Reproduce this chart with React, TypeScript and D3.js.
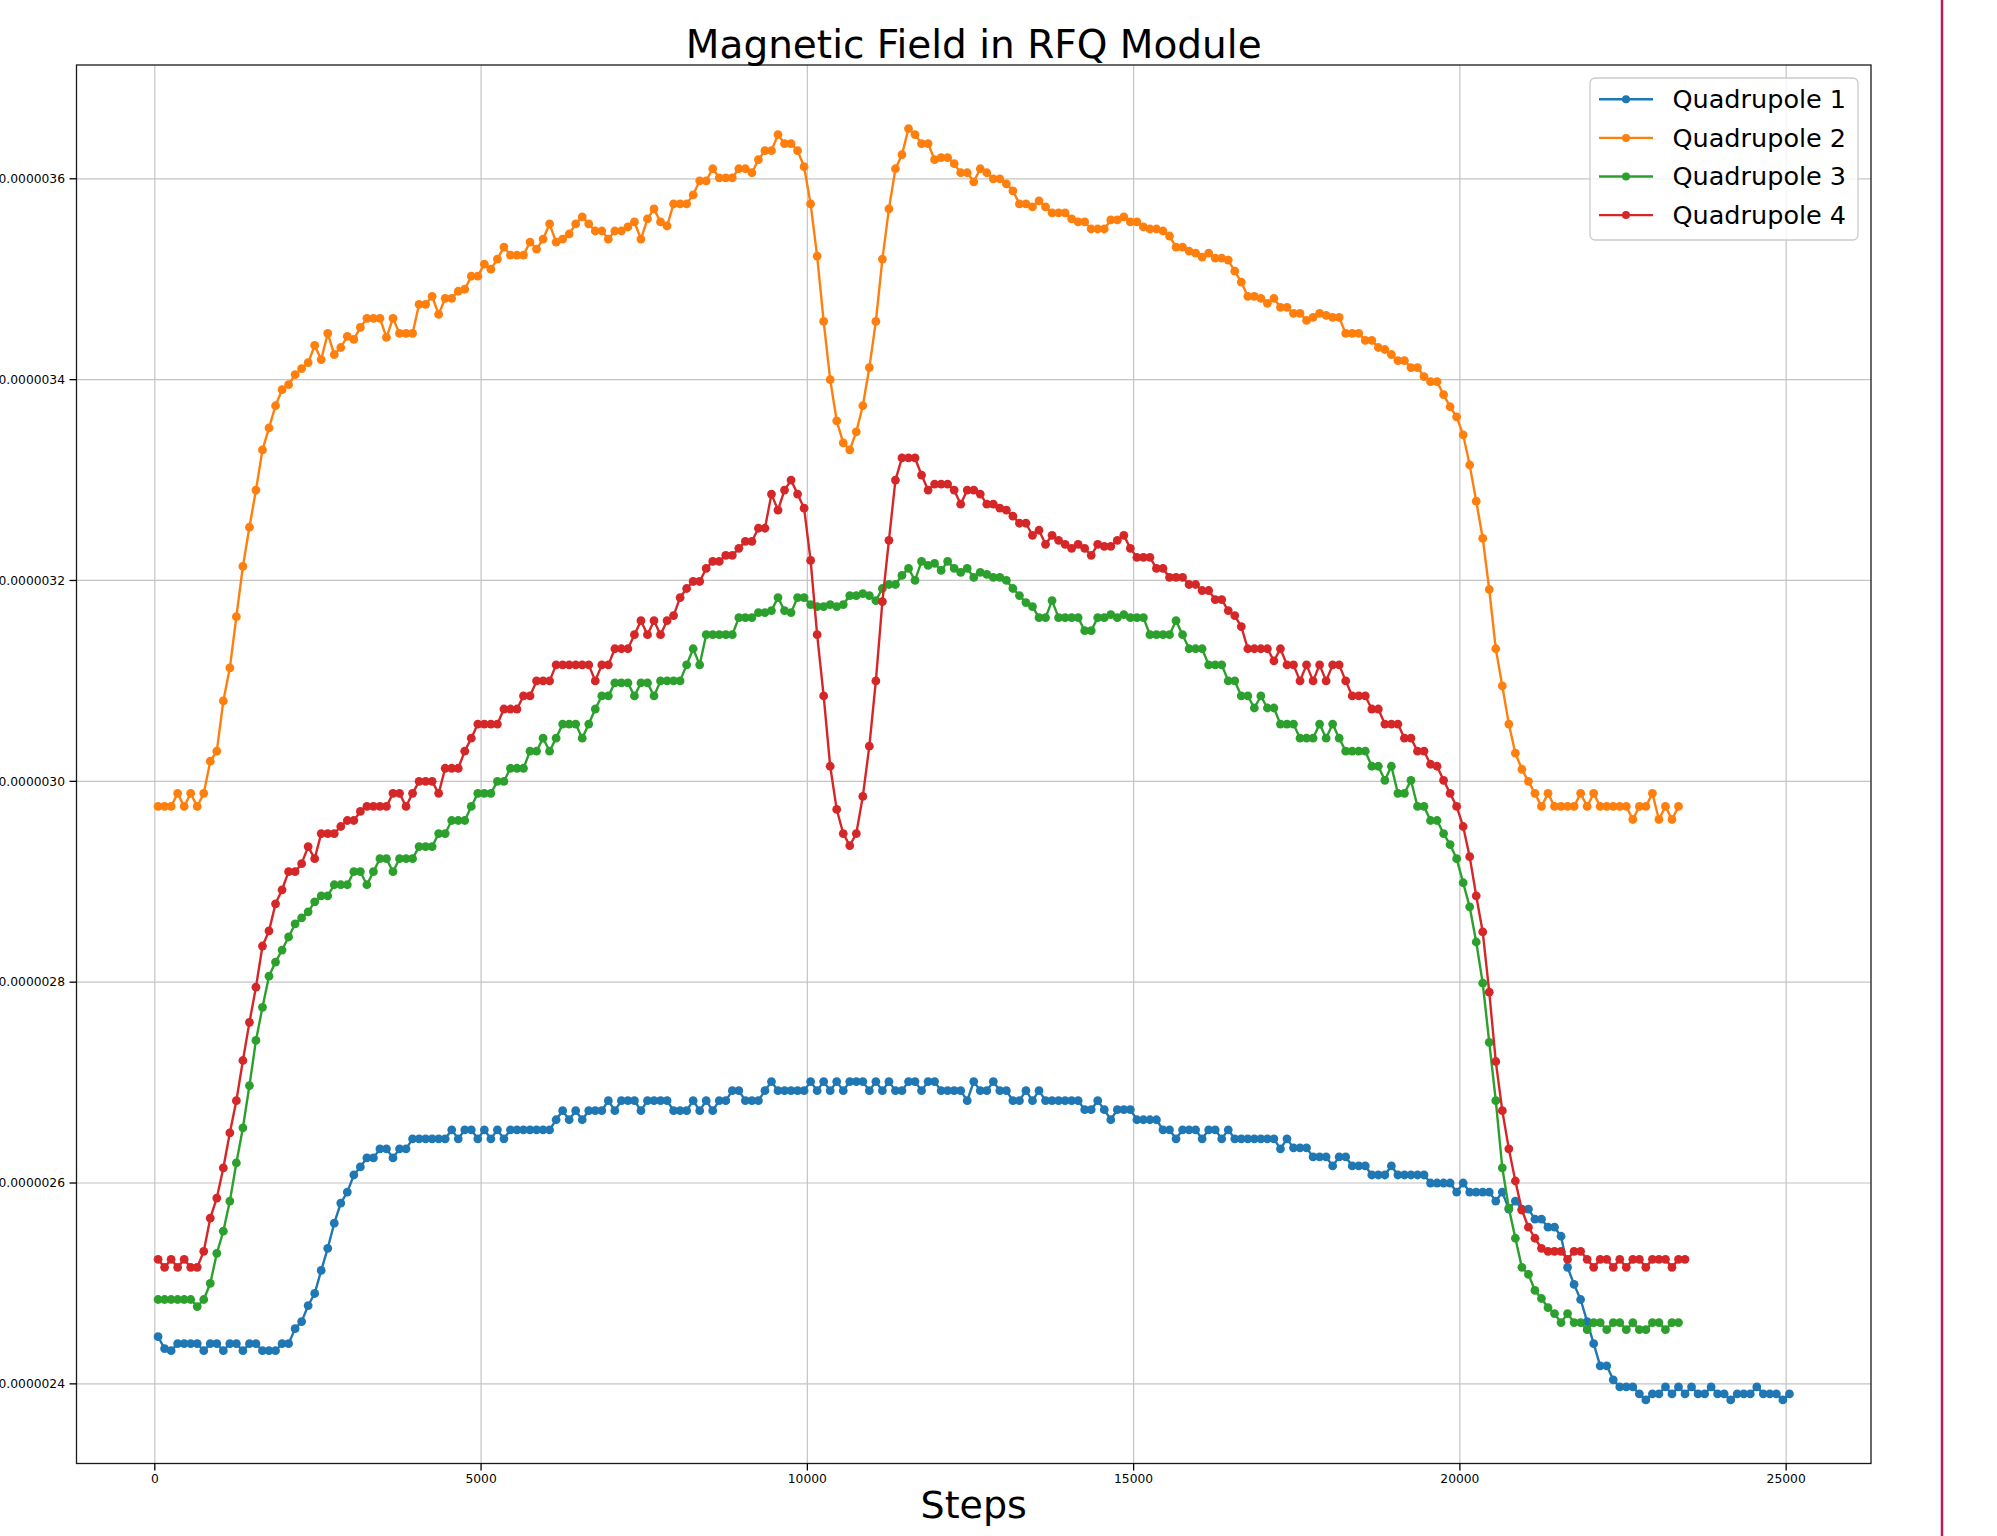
import * as d3 from 'd3';

// sampling interval of the recorded steps (first sample sits at step 50)
const STEP = 100;
const FIRST_STEP = 50;

// field values in units of 1e-9 (one value per 100 steps)
const quad1 = [
  2447, 2435, 2433, 2440, 2440, 2440, 2440, 2433, 2440, 2440,
  2433, 2440, 2440, 2433, 2440, 2440, 2433, 2433, 2433, 2440,
  2440, 2455, 2462, 2478, 2490, 2513, 2535, 2560, 2580, 2591,
  2608, 2616, 2625, 2625, 2634, 2634, 2625, 2634, 2634, 2644,
  2644, 2644, 2644, 2644, 2644, 2653, 2644, 2653, 2653, 2644,
  2653, 2644, 2653, 2644, 2653, 2653, 2653, 2653, 2653, 2653,
  2653, 2663, 2672, 2663, 2672, 2663, 2672, 2672, 2672, 2682,
  2672, 2682, 2682, 2682, 2672, 2682, 2682, 2682, 2682, 2672,
  2672, 2672, 2682, 2672, 2682, 2672, 2682, 2682, 2692, 2692,
  2682, 2682, 2682, 2692, 2701, 2692, 2692, 2692, 2692, 2692,
  2701, 2692, 2701, 2692, 2701, 2692, 2701, 2701, 2701, 2692,
  2701, 2692, 2701, 2692, 2692, 2701, 2701, 2692, 2701, 2701,
  2692, 2692, 2692, 2692, 2682, 2701, 2692, 2692, 2701, 2692,
  2692, 2682, 2682, 2692, 2682, 2692, 2682, 2682, 2682, 2682,
  2682, 2682, 2673, 2673, 2682, 2673, 2663, 2673, 2673, 2673,
  2663, 2663, 2663, 2663, 2653, 2653, 2644, 2653, 2653, 2653,
  2644, 2653, 2653, 2644, 2653, 2644, 2644, 2644, 2644, 2644,
  2644, 2644, 2634, 2644, 2635, 2635, 2635, 2626, 2626, 2626,
  2617, 2626, 2626, 2617, 2617, 2617, 2608, 2608, 2608, 2617,
  2608, 2608, 2608, 2608, 2608, 2600, 2600, 2600, 2600, 2591,
  2600, 2591, 2591, 2591, 2591, 2582, 2591, 2574, 2582, 2574,
  2574, 2564, 2564, 2556, 2556, 2547, 2516, 2499, 2484, 2462,
  2440, 2418, 2418, 2404, 2397, 2397, 2397, 2390, 2384, 2390,
  2390, 2397, 2390, 2397, 2390, 2397, 2390, 2390, 2397, 2390,
  2390, 2384, 2390, 2390, 2390, 2397, 2390, 2390, 2390, 2384,
  2390,
];

const quad2 = [
  2975, 2975, 2975, 2988, 2975, 2988, 2975, 2988, 3020, 3030,
  3080, 3113, 3164, 3214, 3253, 3290, 3330, 3352, 3374, 3390,
  3395, 3405, 3411, 3417, 3434, 3420, 3446, 3425, 3432, 3443,
  3440, 3452, 3461, 3461, 3461, 3442, 3461, 3446, 3446, 3446,
  3475, 3475, 3483, 3465, 3481, 3481, 3488, 3490, 3503, 3503,
  3515, 3510, 3520, 3532, 3524, 3524, 3524, 3537, 3530, 3540,
  3555, 3537, 3540, 3545, 3555, 3562, 3555, 3548, 3548, 3540,
  3548, 3548, 3552, 3557, 3540, 3560, 3570, 3557, 3553, 3575,
  3575, 3575, 3584, 3598, 3598, 3610, 3601, 3601, 3601, 3610,
  3610, 3606, 3619, 3628, 3628, 3644, 3635, 3635, 3628, 3612,
  3575, 3523, 3458, 3400, 3359, 3337, 3330, 3348, 3374, 3412,
  3458, 3520, 3570, 3610, 3624, 3650, 3644, 3635, 3635, 3619,
  3621, 3621, 3615, 3606, 3606, 3597, 3610, 3606, 3600, 3600,
  3595, 3588, 3575, 3575, 3572, 3578, 3572, 3566, 3566, 3566,
  3560, 3557, 3557, 3550, 3550, 3550, 3559, 3559, 3562, 3557,
  3557, 3552, 3550, 3550, 3548, 3543, 3532, 3532, 3528, 3526,
  3522, 3526, 3521, 3521, 3519, 3508, 3497, 3483, 3483, 3481,
  3476, 3481, 3472, 3472, 3466, 3466, 3459, 3462, 3466, 3464,
  3462, 3462, 3446, 3446, 3446, 3439, 3439, 3432, 3430, 3425,
  3419, 3419, 3412, 3412, 3403, 3398, 3398, 3385, 3373, 3363,
  3345, 3315, 3279, 3242, 3191, 3132, 3095, 3057, 3028, 3012,
  3000, 2988, 2975, 2988, 2975, 2975, 2975, 2975, 2988, 2975,
  2988, 2975, 2975, 2975, 2975, 2975, 2962, 2975, 2975, 2988,
  2962, 2975, 2962, 2975,
];

const quad3 = [
  2484, 2484, 2484, 2484, 2484, 2484, 2477, 2484, 2500, 2530,
  2552, 2582, 2620, 2655, 2697, 2742, 2775, 2806, 2820, 2832,
  2845, 2858, 2864, 2870, 2880, 2886, 2886, 2897, 2897, 2897,
  2910, 2910, 2897, 2910, 2923, 2923, 2910, 2923, 2923, 2923,
  2935, 2935, 2935, 2948, 2948, 2961, 2961, 2961, 2975, 2988,
  2988, 2988, 3000, 3000, 3013, 3013, 3013, 3030, 3030, 3043,
  3030, 3043, 3057, 3057, 3057, 3043, 3057, 3072, 3085, 3085,
  3098, 3098, 3098, 3085, 3098, 3098, 3085, 3100, 3100, 3100,
  3100, 3116, 3132, 3116, 3146, 3146, 3146, 3146, 3146, 3163,
  3163, 3163, 3168, 3168, 3170, 3183, 3170, 3168, 3183, 3183,
  3176, 3174, 3174, 3176, 3174, 3176, 3185, 3185, 3187, 3185,
  3180, 3192, 3196, 3196, 3205, 3212, 3200, 3219, 3215, 3217,
  3210, 3219, 3212, 3208, 3212, 3203, 3208, 3206, 3203, 3203,
  3200, 3192, 3185, 3178, 3174, 3163, 3163, 3180, 3163, 3163,
  3163, 3163, 3150, 3150, 3163, 3163, 3166, 3163, 3166, 3163,
  3163, 3163, 3146, 3146, 3146, 3146, 3160, 3146, 3132, 3132,
  3132, 3116, 3116, 3116, 3100, 3100, 3085, 3085, 3073, 3085,
  3073, 3073, 3057, 3057, 3057, 3043, 3043, 3043, 3057, 3043,
  3057, 3043, 3030, 3030, 3030, 3030, 3015, 3015, 3001, 3015,
  2988, 2988, 3001, 2975, 2975, 2961, 2961, 2948, 2937, 2923,
  2899, 2875, 2840, 2799, 2740, 2682, 2615, 2575, 2545, 2516,
  2509, 2493, 2485, 2476, 2470, 2461, 2470, 2461, 2461, 2454,
  2461, 2461, 2454, 2461, 2461, 2454, 2461, 2454, 2454, 2461,
  2461, 2454, 2461, 2461,
];

const quad4 = [
  2524, 2516, 2524, 2516, 2524, 2516, 2516, 2532, 2565, 2585,
  2615, 2650, 2682, 2722, 2760, 2795, 2836, 2851, 2878, 2892,
  2910, 2910, 2918, 2935, 2923, 2948, 2948, 2948, 2955, 2961,
  2961, 2970, 2975, 2975, 2975, 2975, 2988, 2988, 2975, 2988,
  3000, 3000, 3000, 2988, 3013, 3013, 3013, 3030, 3043, 3057,
  3057, 3057, 3057, 3072, 3072, 3072, 3085, 3085, 3100, 3100,
  3100, 3116, 3116, 3116, 3116, 3116, 3116, 3100, 3116, 3116,
  3132, 3132, 3132, 3146, 3160, 3146, 3160, 3146, 3160, 3165,
  3183, 3192, 3199, 3199, 3212, 3219, 3219, 3225, 3225, 3232,
  3239, 3239, 3252, 3252, 3286, 3270, 3290, 3300, 3286, 3272,
  3220, 3146, 3085, 3015, 2972, 2948, 2936, 2948, 2985, 3035,
  3100, 3179, 3240, 3300, 3322, 3322, 3322, 3305, 3290, 3296,
  3296, 3296, 3290, 3276, 3290, 3290, 3286, 3276, 3276, 3272,
  3270, 3264, 3257, 3257, 3245, 3250, 3236, 3245, 3240, 3236,
  3232, 3236, 3232, 3225, 3236, 3234, 3234, 3240, 3245, 3232,
  3223, 3223, 3223, 3212, 3212, 3203, 3203, 3203, 3196, 3196,
  3190, 3190, 3181, 3181, 3170, 3165, 3154, 3132, 3132, 3132,
  3132, 3120, 3132, 3116, 3116, 3100, 3116, 3100, 3116, 3100,
  3116, 3116, 3100, 3085, 3085, 3085, 3072, 3072, 3057, 3057,
  3057, 3043, 3043, 3030, 3030, 3017, 3015, 3001, 2988, 2975,
  2955, 2925, 2886, 2850, 2790, 2721, 2672, 2634, 2602, 2573,
  2556, 2545, 2535, 2532, 2532, 2532, 2524, 2532, 2532, 2524,
  2516, 2524, 2524, 2516, 2524, 2516, 2524, 2524, 2516, 2524,
  2524, 2524, 2516, 2524, 2524,
];

const seriesNames = ['Quadrupole 1', 'Quadrupole 2', 'Quadrupole 3', 'Quadrupole 4'];
const seriesColors = ['#1f77b4', '#ff7f0e', '#2ca02c', '#d62728'];
const xTickValues = [0, 5000, 10000, 15000, 20000, 25000];
const yTickValues = [2.4e-6, 2.6e-6, 2.8e-6, 3.0e-6, 3.2e-6, 3.4e-6, 3.6e-6];

const W = 1997;
const H = 1536;
const plot = { left: 76.5, right: 1871, top: 65, bottom: 1463.5 };
const FONT = 'DejaVu Sans, sans-serif';

type Pt = [number, number];

export default function App() {
  const series = [quad1, quad2, quad3, quad4].map((vals, i) => ({
    name: seriesNames[i],
    color: seriesColors[i],
    points: vals.map((v, j) => [FIRST_STEP + j * STEP, v * 1e-9] as Pt),
  }));

  // matplotlib style 5% margins around the data
  const all = series.flatMap(s => s.points);
  const [xmin, xmax] = d3.extent(all, d => d[0]) as [number, number];
  const [ymin, ymax] = d3.extent(all, d => d[1]) as [number, number];
  const xPad = (xmax - xmin) * 0.05;
  const yPad = (ymax - ymin) * 0.05;

  const x = d3.scaleLinear().domain([xmin - xPad, xmax + xPad]).range([plot.left, plot.right]);
  const y = d3.scaleLinear().domain([ymin - yPad, ymax + yPad]).range([plot.bottom, plot.top]);
  const line = d3.line<Pt>().x(d => x(d[0])).y(d => y(d[1]));
  const fmt = d3.format('.7f');

  const legendX = 1590;
  const legendY = 78;

  return (
    <svg width={W} height={H} style={{ position: 'absolute', left: 0, top: 0, background: '#fff' }}>
      <rect x={0} y={0} width={W} height={H} fill="#fff" />

      {/* grid */}
      <g stroke="#c4c4c4" strokeWidth={1.2}>
        {xTickValues.map(t => (
          <line key={'gx' + t} x1={x(t)} x2={x(t)} y1={plot.top} y2={plot.bottom} />
        ))}
        {yTickValues.map(t => (
          <line key={'gy' + t} x1={plot.left} x2={plot.right} y1={y(t)} y2={y(t)} />
        ))}
      </g>

      {/* series */}
      {series.map(s => (
        <g key={s.name}>
          <path d={line(s.points) ?? ''} fill="none" stroke={s.color} strokeWidth={2.4} strokeLinejoin="round" />
          {s.points.map((p, k) => (
            <circle key={k} cx={x(p[0])} cy={y(p[1])} r={4.4} fill={s.color} />
          ))}
        </g>
      ))}

      {/* frame */}
      <rect x={plot.left} y={plot.top} width={plot.right - plot.left} height={plot.bottom - plot.top}
        fill="none" stroke="#1a1a1a" strokeWidth={1.3} />

      {/* ticks */}
      <g fontFamily={FONT} fontSize={12.3} fill="#000">
        {xTickValues.map(t => (
          <g key={'tx' + t}>
            <line x1={x(t)} x2={x(t)} y1={plot.bottom} y2={plot.bottom + 7} stroke="#000" strokeWidth={1.3} />
            <text x={x(t)} y={1482.5} textAnchor="middle">{t}</text>
          </g>
        ))}
        {yTickValues.map(t => (
          <g key={'ty' + t}>
            <line x1={plot.left - 7} x2={plot.left} y1={y(t)} y2={y(t)} stroke="#000" strokeWidth={1.3} />
            <text x={65} y={y(t)} dy="0.35em" textAnchor="end">{fmt(t)}</text>
          </g>
        ))}
      </g>

      {/* labels */}
      <text x={(plot.left + plot.right) / 2} y={57.5} textAnchor="middle" fontFamily={FONT} fontSize={39}>
        Magnetic Field in RFQ Module
      </text>
      <text x={(plot.left + plot.right) / 2} y={1518} textAnchor="middle" fontFamily={FONT} fontSize={38}>
        Steps
      </text>

      {/* legend */}
      <g>
        <rect x={legendX} y={legendY} width={268} height={162} rx={5} fill="#fff" fillOpacity={0.8}
          stroke="#cccccc" strokeWidth={1.3} />
        {series.map((s, i) => {
          const ly = 99.3 + i * 38.6;
          return (
            <g key={'lg' + s.name}>
              <line x1={1599} x2={1653} y1={ly} y2={ly} stroke={s.color} strokeWidth={2.4} />
              <circle cx={1626} cy={ly} r={4} fill={s.color} />
              <text x={1672.5} y={ly} dy="0.35em" fontFamily={FONT} fontSize={25.5}>{s.name}</text>
            </g>
          );
        })}
      </g>

      {/* crop edge line on the right */}
      <line x1={1942} x2={1942} y1={0} y2={H} stroke="#c2185b" strokeWidth={2.5} />
    </svg>
  );
}
